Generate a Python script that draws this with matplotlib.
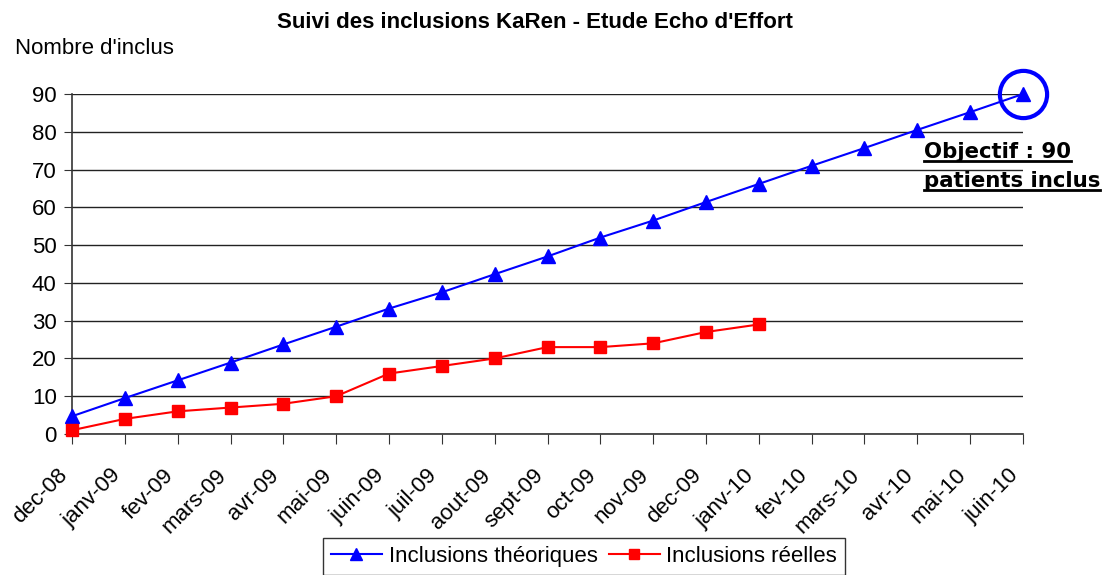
import matplotlib
matplotlib.use("Agg")
import matplotlib.pyplot as plt
from matplotlib.lines import Line2D
from matplotlib.transforms import ScaledTranslation

plt.rcParams["font.family"] = ["Liberation Sans", "DejaVu Sans"]

months = ["dec-08", "janv-09", "fev-09", "mars-09", "avr-09", "mai-09",
          "juin-09", "juil-09", "aout-09", "sept-09", "oct-09", "nov-09",
          "dec-09", "janv-10", "fev-10", "mars-10", "avr-10", "mai-10",
          "juin-10"]
theoriques = [4.7, 9.5, 14.2, 18.9, 23.7, 28.4, 33.2, 37.5, 42.3, 47.0,
              52.0, 56.5, 61.4, 66.2, 71.0, 75.7, 80.5, 85.2, 90.0]
reelles = [1, 4, 6, 7, 8, 10, 16, 18, 20, 23, 23, 24, 27, 29]
y_ticks = [0, 10, 20, 30, 40, 50, 60, 70, 80, 90]

FS = 16

fig = plt.figure(figsize=(11.05, 5.75), dpi=100)
ax = fig.add_axes([72 / 1105, 1 - 434 / 575, (1023 - 72) / 1105, (434 - 94) / 575])

x_th = list(range(len(theoriques)))
x_re = list(range(len(reelles)))
ax.plot(x_th, theoriques, color="#0000ff", lw=1.5, marker="^", ms=10,
        label="Inclusions théoriques", clip_on=False, zorder=4)
ax.plot(x_re, reelles, color="#ff0000", lw=1.5, marker="s", ms=8.5,
        label="Inclusions réelles", clip_on=False, zorder=4)

# ring around the target point
ax.plot([x_th[-1]], [theoriques[-1]], marker="o", ms=34, mfc="none",
        mec="#0000ff", mew=3, clip_on=False, zorder=5)

ax.set_xlim(0, len(months) - 1)
ax.set_ylim(0, 90)
ax.set_yticks(y_ticks)
ax.set_xticks(x_th)
ax.set_xticklabels(months, rotation=45, ha="right", rotation_mode="anchor",
                   fontsize=FS)
ax.tick_params(axis="y", labelsize=FS, length=6, color="#333333", pad=5)
ax.tick_params(axis="x", length=7, color="#333333", pad=3)
# labels sit a bit left/below of their tick, like the Excel original
shift = ScaledTranslation(-0.15, -0.17, fig.dpi_scale_trans)
for lab in ax.get_xticklabels():
    lab.set_transform(lab.get_transform() + shift)
ax.yaxis.grid(True, color="#222222", lw=1)
ax.set_axisbelow(True)
for side in ["top", "right"]:
    ax.spines[side].set_visible(False)
for side in ["left", "bottom"]:
    ax.spines[side].set_color("#333333")
    ax.spines[side].set_linewidth(1.2)

fig.text(535 / 1105, 1 - 22 / 575, "Suivi des inclusions KaRen - Etude Echo d'Effort",
         ha="center", va="center", fontsize=FS, fontweight="bold")
fig.text(15 / 1105, 1 - 49 / 575, "Nombre d'inclus", ha="left", va="center",
         fontsize=FS)

leg = fig.legend(loc="upper center", bbox_to_anchor=(584 / 1105, 1 - 538 / 575),
                 ncol=2, fontsize=FS, frameon=True, fancybox=False,
                 handlelength=2.3, columnspacing=0.5, handletextpad=0.3,
                 borderpad=0.35, borderaxespad=0, markerscale=0.8)
leg.get_frame().set_edgecolor("black")
leg.get_frame().set_linewidth(1)

# underlined annotation
renderer = fig.canvas.get_renderer()
lines_txt = ["Objectif : 90", "patients inclus"]
ys = [1 - 158 / 575, 1 - 187 / 575]
for txt, yy in zip(lines_txt, ys):
    t = fig.text(924 / 1105, yy, txt, ha="left", va="baseline", fontsize=15.3,
                 fontweight="bold", family=["DejaVu Sans"])
    bb = t.get_window_extent(renderer).transformed(fig.transFigure.inverted())
    fig.add_artist(Line2D([bb.x0, bb.x1], [bb.y0 + 0.001, bb.y0 + 0.001],
                          color="black", lw=2, transform=fig.transFigure))

fig.savefig("out.png", dpi=100)
